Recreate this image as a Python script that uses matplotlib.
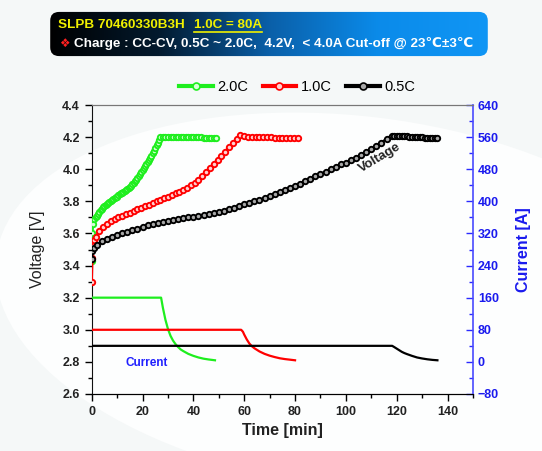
import matplotlib
matplotlib.use("Agg")
import matplotlib.pyplot as plt
import numpy as np
from matplotlib.patches import FancyBboxPatch, Ellipse
from matplotlib.colors import LinearSegmentedColormap
from matplotlib.lines import Line2D
from matplotlib.ticker import MultipleLocator

plt.rcParams['font.family'] = ['Liberation Sans', 'DejaVu Sans']

# ---------------- data ----------------
t_v20 = [0, 0.25, 0.5, 1, 1.5, 2, 2.5, 3, 3.5, 4, 4.5, 5, 5.5, 6, 6.5, 7, 7.5, 8, 8.5, 9,
         9.5, 10, 10.5, 11, 11.5, 12, 12.5, 13, 13.5, 14, 14.5, 15, 15.5, 16, 16.5, 17,
         17.5, 18, 18.5, 19, 19.5, 20, 20.5, 21, 21.5, 22, 22.5, 23, 23.5, 24, 24.5, 25,
         25.5, 26, 26.5, 27, 28, 29, 30, 31, 32, 33, 34, 35, 36, 37, 38, 39, 40, 41, 42,
         43, 44, 45, 46, 47, 48, 49]
v_20 = [3.43, 3.60, 3.66, 3.69, 3.70, 3.71, 3.72, 3.735, 3.745, 3.755, 3.763, 3.77, 3.777,
        3.783, 3.789, 3.795, 3.802, 3.81, 3.815, 3.82, 3.825, 3.83, 3.837, 3.843, 3.849,
        3.855, 3.861, 3.867, 3.872, 3.878, 3.884, 3.89, 3.897, 3.905, 3.915, 3.925, 3.935,
        3.945, 3.957, 3.97, 3.982, 3.995, 4.007, 4.02, 4.032, 4.045, 4.057, 4.07, 4.085,
        4.10, 4.115, 4.13, 4.148, 4.165, 4.183, 4.20, 4.20, 4.20, 4.20, 4.20, 4.20, 4.20,
        4.20, 4.20, 4.20, 4.20, 4.20, 4.20, 4.20, 4.20, 4.20, 4.20, 4.195, 4.195, 4.195,
        4.195, 4.195, 4.195]

t_v10 = [0, 0.25, 0.5, 1, 1.5, 3, 4.5, 6, 7.5, 9, 10.5, 12, 13.5, 15, 16.5, 18, 19.5, 21,
         22.5, 24, 25.5, 27, 28.5, 30, 31.5, 33, 34.5, 36, 37.5, 39, 40.5, 42, 43.5, 45,
         46.5, 48, 49.5, 51, 52.5, 54, 55.5, 57, 58.5, 60, 61.5, 63, 64.5, 66, 67.5, 69,
         70.5, 72, 73.5, 75, 76.5, 78, 79.5, 81]
v_10 = [3.30, 3.45, 3.52, 3.56, 3.58, 3.615, 3.64, 3.66, 3.675, 3.687, 3.70, 3.71, 3.72,
        3.73, 3.74, 3.75, 3.76, 3.77, 3.78, 3.79, 3.80, 3.81, 3.82, 3.83, 3.84,
        3.85, 3.86, 3.872, 3.885, 3.90, 3.917, 3.935, 3.96, 3.985, 4.01, 4.035, 4.06,
        4.085, 4.11, 4.14, 4.165, 4.19, 4.215, 4.205, 4.20, 4.20, 4.20, 4.20, 4.20, 4.20,
        4.20, 4.195, 4.195, 4.195, 4.195, 4.195, 4.195, 4.195]

t_v05 = [0, 0.3, 1, 2, 4, 6, 8, 10, 12, 14, 16, 18, 20, 22, 24, 26, 28, 30, 32, 34, 36, 38,
         40, 42, 44, 46, 48, 50, 52, 54, 56, 58, 60, 62, 64, 66, 68, 70, 72, 74, 76, 78,
         80, 82, 84, 86, 88, 90, 92, 94, 96, 98, 100, 102, 104, 106, 108, 110, 112, 114,
         116, 118, 119, 120, 121, 122, 123, 124, 125, 126, 127, 128, 129, 130, 131, 132,
         133, 134, 135, 136]
v_05 = [3.44, 3.49, 3.51, 3.53, 3.55, 3.565, 3.578, 3.59, 3.60, 3.61, 3.62, 3.63, 3.64,
        3.652, 3.66, 3.665, 3.67, 3.678, 3.685, 3.69, 3.695, 3.70, 3.705, 3.71, 3.715, 3.72,
        3.73, 3.735, 3.74, 3.75, 3.76, 3.77, 3.785, 3.79, 3.80, 3.81, 3.82, 3.835, 3.845,
        3.86, 3.87, 3.885, 3.895, 3.91, 3.925, 3.94, 3.955, 3.97, 3.985, 4.00, 4.015, 4.03,
        4.04, 4.055, 4.07, 4.09, 4.105, 4.125, 4.145, 4.165, 4.19, 4.21, 4.21, 4.21, 4.205,
        4.205, 4.205, 4.205, 4.20, 4.20, 4.20, 4.20, 4.20, 4.20, 4.195, 4.195, 4.195, 4.195,
        4.195, 4.195]

t_i20 = [0, 27.3, 28, 29, 30, 31, 32, 33, 34, 35, 36, 38, 40, 42, 44, 46, 48.5]
i_20 = [160, 160, 135, 105, 82, 65, 53, 44, 37, 31, 27, 20, 15, 11, 8, 6, 4]

t_i10 = [0, 58.8, 59.5, 60, 61, 62, 63, 64, 65, 66, 68, 70, 72, 74, 76, 78, 80]
i_10 = [80, 80, 75, 68, 56, 46, 39, 34, 30, 26, 20, 15.5, 12, 9, 7, 5.5, 4]

t_i05 = [0, 118.2, 119, 120, 121, 122, 123, 124, 126, 128, 130, 132, 134, 136]
i_05 = [40, 40, 37, 33, 29, 25, 22, 19.5, 15, 11, 8.5, 6.5, 5, 4]

series_labels = ['2.0C', '1.0C', '0.5C']
colors = ['#1eee1e', '#ff0000', '#000000']
face_colors = ['#d8ffd8', '#ffd0d0', '#a8a8a8']

# ---------------- figure ----------------
fig = plt.figure(figsize=(5.42, 4.51), dpi=100, facecolor='#f5f8f8')

# faint background swoosh
bg = fig.add_axes([0, 0, 1, 1], zorder=-10)
bg.set_xlim(0, 1); bg.set_ylim(0, 1); bg.axis('off')
bg.add_patch(Ellipse((0.66, 0.33), 1.35, 0.82, angle=-10, facecolor='#fdfefe', edgecolor='none'))

ax = fig.add_axes([91.7/542, 1-394/451, (473-91.7)/542, (394-105)/451])
ax.patch.set_alpha(0)
ax2 = ax.twinx()

vdata = [(t_v20, v_20), (t_v10, v_10), (t_v05, v_05)]
idata = [(t_i20, i_20), (t_i10, i_10), (t_i05, i_05)]
for (t, v), c, fc in zip(vdata, colors, face_colors):
    ax.plot(t, v, '-', color=c, lw=1.8, marker='o', ms=3.9, mfc=fc, mec=c, mew=1.35, zorder=3)
for (t, i), c in zip(idata, colors):
    ax2.plot(t, i, '-', color=c, lw=1.6)

ax.set_ylim(2.6, 4.4)
ax2.set_ylim(-80, 640)
ax.xaxis.set_minor_locator(MultipleLocator(10))
ax.yaxis.set_major_locator(MultipleLocator(0.2))
ax.yaxis.set_minor_locator(MultipleLocator(0.1))
ax2.yaxis.set_major_locator(MultipleLocator(80))
ax2.yaxis.set_minor_locator(MultipleLocator(40))
ax.set_xticks(np.arange(0, 141, 20))
ax.set_xlim(0, 150)

ax.tick_params(axis='both', which='major', direction='out', length=5, width=1,
               labelsize=9, top=False)
ax.tick_params(axis='both', which='minor', direction='out', length=3, width=1, top=False)
ax2.tick_params(axis='y', which='major', direction='in', length=5, width=1,
                colors='#2a2aff', labelsize=9)
ax2.tick_params(axis='y', which='minor', direction='in', length=3, width=1, colors='#2a2aff')
for lab in ax.get_xticklabels() + ax.get_yticklabels():
    lab.set_fontweight('bold'); lab.set_color('#222222')
for lab in ax2.get_yticklabels():
    lab.set_fontweight('bold'); lab.set_color('#1a1aee')

for s in ['left', 'bottom']:
    ax.spines[s].set_color('#111111')
ax.spines['top'].set_color('#777777')
ax2.spines['top'].set_color('#777777')
ax2.spines['right'].set_color('#4a4aff')
ax2.spines['right'].set_linewidth(1.2)
ax.spines['right'].set_visible(False)
ax2.spines['left'].set_visible(False)

ax.set_xlabel('Time [min]', fontsize=11.5, fontweight='bold', color='#222222', labelpad=4)
ax.set_ylabel('Voltage [V]', fontsize=11.5, color='#222222', labelpad=12)
ax2.set_ylabel('Current [A]', fontsize=11.5, fontweight='bold', color='#1a1aee', labelpad=12)

ax.text(113.5, 4.068, 'Voltage', rotation=31, fontsize=9.5, fontweight='bold',
        ha='center', va='center', color='#222222')
ax.text(21.6, 2.794, 'Current', fontsize=8.5, fontweight='bold', color='#2020ff',
        ha='center', va='center')

# legend
handles = [Line2D([], [], color=c, lw=3, marker='o', ms=5, mfc=fc, mec=c, mew=1.2)
           for c, fc in zip(colors, face_colors)]
fig.legend(handles, series_labels, ncol=3, loc='center', bbox_to_anchor=(0.548, 0.807),
           frameon=False, handlelength=2.3, handletextpad=0.3, columnspacing=1.0,
           fontsize=10.5)

# header box with gradient
x0, y0, w, h = 48/542, 1-57/451, 442/542, 46/451
hax = fig.add_axes([x0, y0, w, h])
hax.set_xlim(0, 1); hax.set_ylim(0, 1); hax.axis('off')
cmap = LinearSegmentedColormap.from_list('hdr', ['#000000', '#031a2e', '#0a5fa8', '#0b8bea', '#1096f5'])
grad = np.linspace(0, 1, 256).reshape(1, -1)
im = hax.imshow(grad, aspect='auto', cmap=cmap, extent=[0, 1, 0, 1])
box = FancyBboxPatch((0.005, 0.02), 0.99, 0.96, boxstyle='round,pad=0,rounding_size=0.02',
                     transform=hax.transAxes, facecolor='none', edgecolor='none',
                     mutation_aspect=9.6)
hax.add_patch(box)
im.set_clip_path(box)

fs_h = 9.7
fig.text(58/542, 1-25/451, 'SLPB 70460330B3H', color='#f0f000', fontsize=fs_h,
         fontweight='bold', va='center', ha='left')
t2 = fig.text(194/542, 1-25/451, '1.0C = 80A', color='#f0f000', fontsize=fs_h,
              fontweight='bold', va='center', ha='left')
fig.text(59/542, 1-43.5/451, '❖', color='#ff2020', fontsize=8.5, va='center', ha='left',
         family=['DejaVu Sans'])
fig.text(74/542, 1-43.5/451, 'Charge : CC-CV, 0.5C ~ 2.0C,  4.2V,  < 4.0A Cut-off @ 23℃±3℃',
         color='white', fontsize=fs_h, fontweight='bold', va='center', ha='left')

fig.canvas.draw()
bb = t2.get_window_extent().transformed(fig.transFigure.inverted())
fig.add_artist(Line2D([bb.x0, bb.x1], [bb.y0 - 0.002, bb.y0 - 0.002],
                      transform=fig.transFigure, color='#f0f000', lw=1.2))

fig.savefig('out.png', dpi=100, facecolor=fig.get_facecolor())
